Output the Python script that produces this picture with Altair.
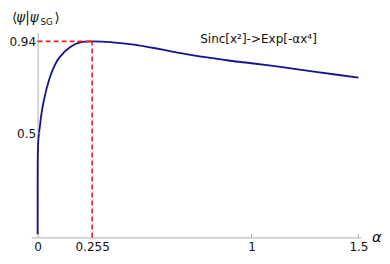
import altair as alt
import pandas as pd

# values
alpha = [0.0, 0.0001, 0.0005, 0.001, 0.002, 0.004, 0.007, 0.01, 0.015, 0.02, 0.025,
         0.03, 0.04, 0.05, 0.06, 0.07, 0.08, 0.09, 0.1, 0.115, 0.13, 0.15, 0.175,
         0.2, 0.225, 0.255, 0.3, 0.35, 0.4, 0.45, 0.5, 0.55, 0.6, 0.7, 0.8, 0.9,
         1.0, 1.1, 1.2, 1.3, 1.4, 1.5]
overlap = [0.015, 0.27, 0.36, 0.40, 0.44, 0.475, 0.505, 0.527, 0.57, 0.605, 0.635,
           0.66, 0.705, 0.743, 0.775, 0.802, 0.825, 0.845, 0.86, 0.878, 0.894, 0.911, 0.926,
           0.935, 0.939, 0.94, 0.939, 0.935, 0.93, 0.924, 0.916, 0.907, 0.897, 0.878, 0.862, 0.847,
           0.835, 0.822, 0.808, 0.794, 0.780, 0.766]
x_ticks = [0, 0.255, 1, 1.5]
y_ticks = [0.5, 0.94]
peak_alpha = 0.255
peak_value = 0.94

FONT = "DejaVu Sans"
AXIS_GRAY = "#b0b0b0"
CURVE = "#14148c"
RED = "#ee2020"

W, H = 329.4, 205.0
X_DOMAIN = [-0.03, 1.51]
Y_DOMAIN = [0, 0.983]
zero_px = (0 - X_DOMAIN[0]) / (X_DOMAIN[1] - X_DOMAIN[0]) * W

curve_df = pd.DataFrame({"alpha": alpha, "overlap": overlap})
xs = alt.Scale(domain=X_DOMAIN, nice=False, zero=False)
ys = alt.Scale(domain=Y_DOMAIN, nice=False, zero=False)

x_axis = alt.Axis(values=x_ticks, title=None, ticks=False, grid=False, format=".3~g",
                  domainColor=AXIS_GRAY, labelFont=FONT, labelFontSize=12,
                  labelColor="#111111", labelPadding=4)
y_axis = alt.Axis(values=y_ticks, title=None, ticks=False, grid=False, format=".3~g",
                  domainColor=AXIS_GRAY, labelFont=FONT, labelFontSize=12,
                  labelColor="#111111", labelPadding=2, offset=-zero_px)

curve = alt.Chart(curve_df).mark_line(color=CURVE, strokeWidth=1.8, interpolate="monotone").encode(
    x=alt.X("alpha:Q", scale=xs, axis=x_axis),
    y=alt.Y("overlap:Q", scale=ys, axis=y_axis),
)

# small inward ticks
xt_df = pd.DataFrame({"t": x_ticks[1:], "y0": [0] * 3, "y1": [0.017] * 3})
xticks = alt.Chart(xt_df).mark_rule(color=AXIS_GRAY, strokeWidth=1).encode(
    x=alt.X("t:Q", scale=xs), y=alt.Y("y0:Q", scale=ys), y2="y1:Q")
yt_df = pd.DataFrame({"t": y_ticks, "x0": [0] * 2, "x1": [0.015] * 2})
yticks = alt.Chart(yt_df).mark_rule(color=AXIS_GRAY, strokeWidth=1).encode(
    y=alt.Y("t:Q", scale=ys), x=alt.X("x0:Q", scale=xs), x2="x1:Q")

dash_df = pd.DataFrame({"x0": [0, peak_alpha], "x1": [peak_alpha, peak_alpha],
                        "y0": [peak_value, 0], "y1": [peak_value, peak_value]})
dashes = alt.Chart(dash_df).mark_rule(color=RED, strokeWidth=1.6, strokeDash=[5, 3]).encode(
    x=alt.X("x0:Q", scale=xs), x2="x1:Q", y=alt.Y("y0:Q", scale=ys), y2="y1:Q")


def txt(text, ax, ay, dx=0, dy=0, size=13.5, style="normal"):
    df = pd.DataFrame({"ax": [ax], "ay": [ay]})
    return alt.Chart(df).mark_text(
        text=text, font=FONT, fontSize=size, fontStyle=style, align="left",
        baseline="alphabetic", color="#111111", dx=dx, dy=dy).encode(
        x=alt.X("ax:Q", scale=xs), y=alt.Y("ay:Q", scale=ys))


# text anchors (in data units)
title_x, title_y = -0.12, 1.033
alpha_x, alpha_y = 1.563, 0.0
note_x, note_y = 0.76, 0.932

title_parts = [
    txt("⟨", title_x, title_y),
    txt("ψ|ψ", title_x, title_y, dx=4.3, style="italic"),
    txt("SG", title_x, title_y, dx=28.5, dy=3, size=8.7),
    txt("⟩", title_x, title_y, dx=42.5),
]
alpha_label = txt("α", alpha_x, alpha_y, dy=5, size=14.5, style="italic")
annotation = txt("Sinc[x²]->Exp[-αx⁴]", note_x, note_y, size=12)

chart = alt.layer(curve, xticks, yticks, dashes, *title_parts, alpha_label, annotation).properties(
    width=W, height=H,
    padding={"left": 23.2, "top": 24.4, "right": 374 - 23.2 - W, "bottom": 246 - 24.4 - H},
    autosize="none",
).configure_view(stroke=None)

chart.save("out.html", embed_options={"renderer": "svg", "actions": False})
